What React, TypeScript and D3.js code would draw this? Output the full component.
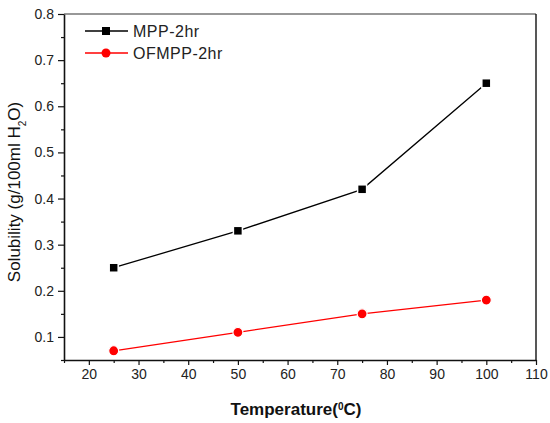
import { useRef, useEffect } from "react";
import * as d3 from "d3";

const temperatures = [25, 50, 75, 100];
const mppValues = [0.25, 0.33, 0.42, 0.65];
const ofmppValues = [0.07, 0.11, 0.15, 0.18];
const xTicks = [20, 30, 40, 50, 60, 70, 80, 90, 100, 110];
const yTicks = [0.1, 0.2, 0.3, 0.4, 0.5, 0.6, 0.7, 0.8];

const WIDTH = 550;
const HEIGHT = 423;
const MARGIN = { top: 14, right: 14, bottom: 63, left: 64 };
const FONT = "Arial, 'Liberation Sans', sans-serif";

export default function App() {
  const svgRef = useRef<SVGSVGElement>(null);

  useEffect(() => {
    if (!svgRef.current) return;
    const svg = d3.select(svgRef.current);
    svg.selectAll("*").remove();

    const innerW = WIDTH - MARGIN.left - MARGIN.right;
    const innerH = HEIGHT - MARGIN.top - MARGIN.bottom;

    const g = svg.append("g").attr("transform", `translate(${MARGIN.left},${MARGIN.top})`);

    const x = d3.scaleLinear().domain([15, 110]).range([0, innerW]);
    const y = d3.scaleLinear().domain([0.05, 0.8]).range([innerH, 0]);

    // frame top/right
    g.append("line").attr("x1", 0).attr("x2", innerW).attr("y1", 0).attr("y2", 0)
      .attr("stroke", "#333").attr("stroke-width", 1.2);
    g.append("line").attr("x1", innerW).attr("x2", innerW).attr("y1", 0).attr("y2", innerH)
      .attr("stroke", "#111").attr("stroke-width", 1.4);

    // minor ticks
    const xMinor = d3.range(15, 111, 5).filter((v) => v % 10 !== 0);
    const yMinor = d3.range(0.05, 0.8, 0.1);

    const xAxis = g.append("g").attr("transform", `translate(0,${innerH})`)
      .call(d3.axisBottom(x).tickValues(xTicks).tickSize(5).tickSizeOuter(0).tickPadding(4).tickFormat(d3.format("d")));
    g.append("g").attr("transform", `translate(0,${innerH})`)
      .call(d3.axisBottom(x).tickValues(xMinor).tickSize(3).tickSizeOuter(0).tickFormat(() => ""))
      .select(".domain").remove();

    const yAxis = g.append("g")
      .call(d3.axisLeft(y).tickValues(yTicks).tickSize(6).tickSizeOuter(0).tickPadding(4).tickFormat(d3.format(".1f")));
    g.append("g")
      .call(d3.axisLeft(y).tickValues(yMinor).tickSize(3).tickSizeOuter(0).tickFormat(() => ""))
      .select(".domain").remove();

    [xAxis, yAxis].forEach((ax) => {
      ax.selectAll("text").attr("font-family", FONT).attr("font-size", "14px").attr("fill", "#222");
      ax.select(".domain").attr("stroke", "#111").attr("stroke-width", 1.6);
    });
    g.selectAll(".tick line").attr("stroke", "#111").attr("stroke-width", 1.2);

    // axis titles
    svg.append("text")
      .attr("x", MARGIN.left + innerW / 2 - 4)
      .attr("y", 415)
      .attr("text-anchor", "middle")
      .attr("font-family", FONT)
      .attr("font-weight", "bold")
      .attr("font-size", "17px")
      .attr("fill", "#111")
      .html('Temperature(<tspan baseline-shift="super" font-size="10px">0</tspan>C)');

    svg.append("text")
      .attr("transform", `translate(20,192) rotate(-90)`)
      .attr("text-anchor", "middle")
      .attr("font-family", FONT)
      .attr("font-size", "17px")
      .attr("fill", "#111")
      .html('Solubility (g/100ml H<tspan baseline-shift="sub" font-size="10px">2</tspan>O)');

    const series = [
      { name: "MPP-2hr", values: mppValues, color: "#000000", shape: "square" },
      { name: "OFMPP-2hr", values: ofmppValues, color: "#ff0000", shape: "circle" },
    ];

    const line = d3.line<number>()
      .x((_, i) => x(temperatures[i]))
      .y((d) => y(d));

    series.forEach((s) => {
      g.append("path")
        .datum(s.values)
        .attr("d", line)
        .attr("fill", "none")
        .attr("stroke", s.color)
        .attr("stroke-width", 1.3);

      const pts = g.append("g");
      s.values.forEach((v, i) => {
        const cx = x(temperatures[i]);
        const cy = y(v);
        if (s.shape === "square") {
          pts.append("rect")
            .attr("x", cx - 4.5).attr("y", cy - 4.5)
            .attr("width", 9).attr("height", 9)
            .attr("fill", s.color).attr("stroke", "#fff").attr("stroke-width", 1.5);
        } else {
          pts.append("circle")
            .attr("cx", cx).attr("cy", cy).attr("r", 5)
            .attr("fill", s.color).attr("stroke", "#fff").attr("stroke-width", 1.2);
        }
      });
    });

    // legend
    const legend = svg.append("g");
    series.forEach((s, i) => {
      const ly = 31 + i * 22;
      legend.append("line")
        .attr("x1", 85).attr("x2", 128).attr("y1", ly).attr("y2", ly)
        .attr("stroke", s.color).attr("stroke-width", 1.3);
      if (s.shape === "square") {
        legend.append("rect")
          .attr("x", 106 - 4).attr("y", ly - 4).attr("width", 8).attr("height", 8)
          .attr("fill", s.color);
      } else {
        legend.append("circle")
          .attr("cx", 106).attr("cy", ly).attr("r", 4.5).attr("fill", s.color);
      }
      legend.append("text")
        .attr("x", 133).attr("y", ly + 6)
        .attr("font-family", FONT)
        .attr("font-size", "16px")
        .attr("letter-spacing", "0.5px")
        .attr("fill", "#222")
        .text(s.name);
    });
  }, []);

  return (
    <svg
      ref={svgRef}
      width={WIDTH}
      height={HEIGHT}
      viewBox={`0 0 ${WIDTH} ${HEIGHT}`}
      style={{ position: "absolute", left: 0, top: 0, background: "#fff" }}
    />
  );
}
